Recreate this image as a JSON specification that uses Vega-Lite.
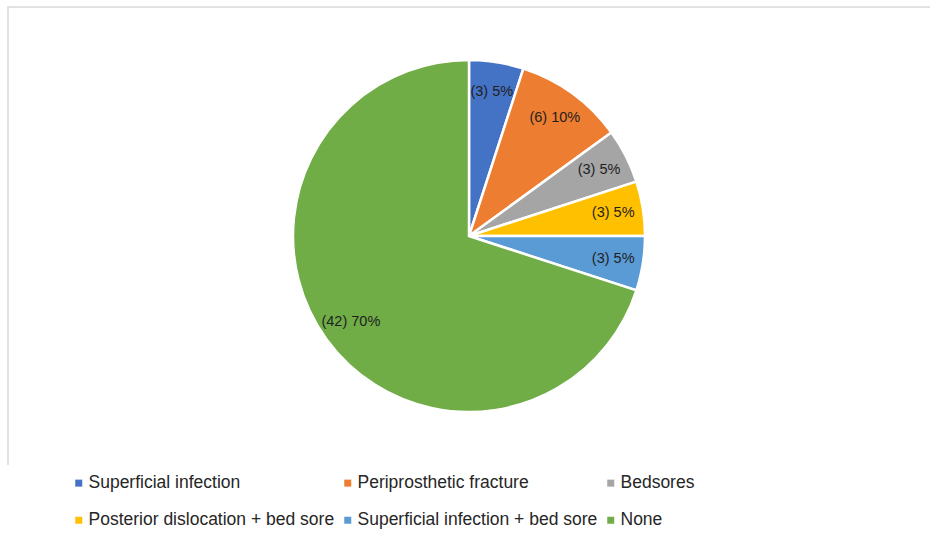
{
  "$schema": "https://vega.github.io/schema/vega-lite/v6.json",
  "width": 922,
  "height": 458,
  "autosize": {"type": "none"},
  "padding": {"left": 8, "top": 7, "right": 0, "bottom": 77},
  "background": "white",
  "view": {"stroke": "#d9d9d9", "strokeWidth": 1.5, "strokeDash": [922, 1380, 458]},
  "config": {
    "font": "Liberation Sans"
  },
  "data": {
    "values": [
      {"category": "Superficial infection", "patients": 3, "label": "(3) 5%", "rank": 1},
      {"category": "Periprosthetic fracture", "patients": 6, "label": "(6) 10%", "rank": 2},
      {"category": "Bedsores", "patients": 3, "label": "(3) 5%", "rank": 3},
      {"category": "Posterior dislocation + bed sore", "patients": 3, "label": "(3) 5%", "rank": 4},
      {"category": "Superficial infection + bed sore", "patients": 3, "label": "(3) 5%", "rank": 5},
      {"category": "None", "patients": 42, "label": "(42) 70%", "rank": 6}
    ]
  },
  "encoding": {
    "theta": {"field": "patients", "type": "quantitative", "stack": true},
    "order": {"field": "rank", "type": "quantitative"}
  },
  "layer": [
    {
      "mark": {"type": "arc", "outerRadius": 176, "stroke": "white", "strokeWidth": 2.5},
      "encoding": {
        "color": {
          "field": "category",
          "type": "nominal",
          "sort": null,
          "scale": {
            "domain": [
              "Superficial infection",
              "Periprosthetic fracture",
              "Bedsores",
              "Posterior dislocation + bed sore",
              "Superficial infection + bed sore",
              "None"
            ],
            "range": ["#4472C4", "#ED7D31", "#A5A5A5", "#FFC000", "#5B9BD5", "#70AD47"]
          },
          "legend": {
            "title": null,
            "orient": "none",
            "legendX": 62,
            "legendY": 467,
            "direction": "horizontal",
            "columns": 3,
            "padding": 0,
            "symbolType": "square",
            "symbolSize": 49,
            "symbolStrokeWidth": 0,
            "symbolOpacity": 1,
            "labelFont": "Liberation Sans",
            "labelFontSize": 17.5,
            "labelColor": "#262626",
            "labelOffset": 1,
            "labelLimit": 400,
            "columnPadding": 4,
            "rowPadding": 18.5
          }
        }
      }
    },
    {
      "mark": {
        "type": "text",
        "radius": 146,
        "font": "Liberation Sans",
        "fontSize": 14.5,
        "fill": "#1f1f1f",
        "align": "center",
        "baseline": "middle"
      },
      "encoding": {
        "detail": {"field": "category", "type": "nominal"},
        "text": {"field": "label", "type": "nominal"}
      }
    }
  ]
}
